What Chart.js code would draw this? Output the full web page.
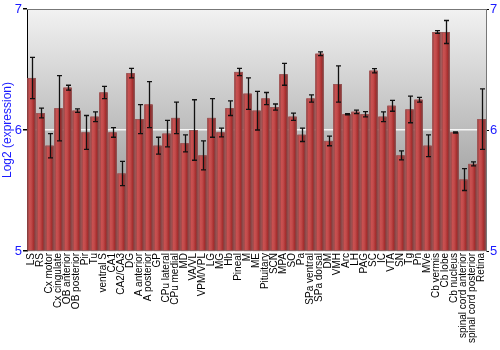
<!DOCTYPE html>
<html>
<head>
<meta charset="utf-8">
<script src="https://cdn.jsdelivr.net/npm/chart.js@4"></script>
<style>
  html, body { margin: 0; padding: 0; background: #fff; }
  canvas { display: block; }
</style>
</head>
<body>
<canvas id="chart" width="500" height="350"></canvas>
<script>
// categories (brain regions)
const regions = ['LS', 'RS', 'Cx motor', 'Cx cingulate', 'OB anterior', 'OB posterior', 'Pir', 'Tu',
  'ventral S', 'CA1', 'CA2/CA3', 'DG', 'A anterior', 'A posterior', 'GP', 'CPu lateral', 'CPu medial',
  'MD', 'VA/VL', 'VPM/VPL', 'LG', 'MG', 'Hb', 'Pineal', 'M', 'ME', 'Pituitary', 'SCN', 'MPA', 'SO', 'Pa',
  'SPa ventral', 'SPa dorsal', 'DM', 'VMH', 'Arc', 'LH', 'PAG', 'SC', 'IC', 'VTA', 'SN', 'Tg', 'Pn', 'MVe',
  'Cb vermis', 'Cb lobe', 'Cb nucleus', 'spinal cord anterior', 'spinal cord posterior', 'Retina'];

// mean log2 expression
const means = [6.43, 6.14, 5.87, 6.18, 6.35, 6.16, 5.98, 6.11,
  6.31, 5.98, 5.64, 6.47, 6.09, 6.21, 5.87, 5.97, 6.10,
  5.89, 6.00, 5.79, 6.10, 5.98, 6.18, 6.48, 6.30, 6.16, 6.26, 6.19, 6.46, 6.11, 5.96,
  6.26, 6.63, 5.91, 6.38, 6.13, 6.15, 6.13, 6.49, 6.11, 6.20, 5.79, 6.17, 6.25, 5.87,
  6.81, 6.81, 5.98, 5.59, 5.72, 6.09];

// error (+/-)
const errors = [0.17, 0.04, 0.10, 0.27, 0.02, 0.015, 0.14, 0.04,
  0.05, 0.04, 0.10, 0.04, 0.12, 0.19, 0.07, 0.11, 0.13,
  0.07, 0.25, 0.12, 0.16, 0.036, 0.06, 0.03, 0.13, 0.16, 0.05, 0.025, 0.09, 0.03, 0.055,
  0.03, 0.015, 0.04, 0.15, 0.005, 0.014, 0.022, 0.018, 0.04, 0.045, 0.037, 0.11, 0.02, 0.09,
  0.012, 0.095, 0.005, 0.09, 0.017, 0.25];

const yTicks = [5, 6, 7];

const FONT = "'Liberation Sans', Arial, sans-serif";

// 배경 그라데이션 + 위 테두리
const backdrop = {
  id: 'backdrop',
  beforeDraw(chart) {
    const { ctx, chartArea: a } = chart;
    const g = ctx.createLinearGradient(0, a.top, 0, a.bottom);
    g.addColorStop(0, '#f2f2f2');
    g.addColorStop(1, '#868686');
    ctx.save();
    ctx.fillStyle = g;
    ctx.fillRect(a.left, a.top, a.right - a.left, a.bottom - a.top);
    ctx.restore();
  },
  afterDraw(chart) {
    const { ctx, chartArea: a } = chart;
    ctx.save();
    ctx.strokeStyle = '#777';
    ctx.lineWidth = 1;
    ctx.beginPath();
    ctx.moveTo(a.left, a.top + 0.5);
    ctx.lineTo(a.right, a.top + 0.5);
    ctx.stroke();
    ctx.restore();
  }
};

// 막대 음영 + 오차 막대
const barsAndErrors = {
  id: 'barsAndErrors',
  afterDatasetsDraw(chart) {
    const { ctx } = chart;
    const y = chart.scales.y;
    const meta = chart.getDatasetMeta(0);
    ctx.save();
    meta.data.forEach((bar, i) => {
      const w = bar.width, x0 = bar.x - w / 2;
      const top = bar.y, bottom = bar.base;
      const g = ctx.createLinearGradient(x0, 0, x0 + w, 0);
      g.addColorStop(0, '#a53232');
      g.addColorStop(0.25, '#c85050');
      g.addColorStop(0.45, '#c44c4c');
      g.addColorStop(0.75, '#a83030');
      g.addColorStop(1, '#7c1f1f');
      ctx.fillStyle = g;
      ctx.fillRect(x0, top, w, bottom - top);
      ctx.strokeStyle = 'rgba(140,100,100,0.7)';
      ctx.lineWidth = 1;
      ctx.strokeRect(x0 + 0.5, top + 0.5, w - 1, bottom - top);
    });
    ctx.strokeStyle = '#111';
    ctx.lineWidth = 1.3;
    meta.data.forEach((bar, i) => {
      const hi = y.getPixelForValue(means[i] + errors[i]);
      const lo = y.getPixelForValue(means[i] - errors[i]);
      const cx = Math.round(bar.x) + 0.5;
      ctx.beginPath();
      ctx.moveTo(cx, hi); ctx.lineTo(cx, lo);
      ctx.moveTo(cx - 2.5, hi); ctx.lineTo(cx + 2.5, hi);
      ctx.moveTo(cx - 2.5, lo); ctx.lineTo(cx + 2.5, lo);
      ctx.stroke();
    });
    ctx.restore();
  }
};

const tickOpts = {
  color: '#1a1aff',
  font: { family: FONT, size: 13 },
  autoSkip: false,
  callback: (v) => yTicks.includes(v) ? String(v) : ''
};

new Chart(document.getElementById('chart'), {
  type: 'bar',
  data: {
    labels: regions,
    datasets: [{
      data: means,
      base: 5,
      backgroundColor: '#b33a3a',
      barPercentage: 0.9,
      categoryPercentage: 1.0
    }]
  },
  options: {
    responsive: false,
    animation: false,
    layout: { padding: { top: 9, left: 0, right: 0, bottom: 0 } },
    plugins: { legend: { display: false }, tooltip: { enabled: false } },
    scales: {
      x: {
        grid: { display: false, drawTicks: false },
        border: { display: false },
        ticks: {
          color: '#000', font: { family: FONT, size: 10 },
          autoSkip: false, minRotation: 90, maxRotation: 90, padding: 2
        },
        afterFit: (s) => { s.height = 99; }
      },
      y: {
        min: 5, max: 7,
        position: 'left',
        afterBuildTicks: (s) => { s.ticks = yTicks.map(v => ({ value: v })); },
        ticks: { ...tickOpts, padding: 1 },
        grid: {
          color: (c) => c.tick && c.tick.value === 6 ? 'rgba(255,255,255,0.85)' : 'rgba(0,0,0,0)',
          lineWidth: 1.5,
          tickColor: '#000',
          tickLength: 4
        },
        border: { color: '#000', width: 1 },
        title: { display: true, text: 'Log2 (expression)', color: '#1a1aff', font: { family: FONT, size: 12 }, padding: 0 },
        afterFit: (s) => { s.width = 27; }
      },
      y2: {
        min: 5, max: 7,
        position: 'right',
        afterBuildTicks: (s) => { s.ticks = yTicks.map(v => ({ value: v })); },
        ticks: { ...tickOpts, padding: 1 },
        grid: { drawOnChartArea: false, tickColor: '#000', tickLength: 3 },
        border: { color: '#777', width: 1 },
        afterFit: (s) => { s.width = 14; }
      }
    }
  },
  plugins: [backdrop, barsAndErrors]
});
</script>
</body>
</html>
